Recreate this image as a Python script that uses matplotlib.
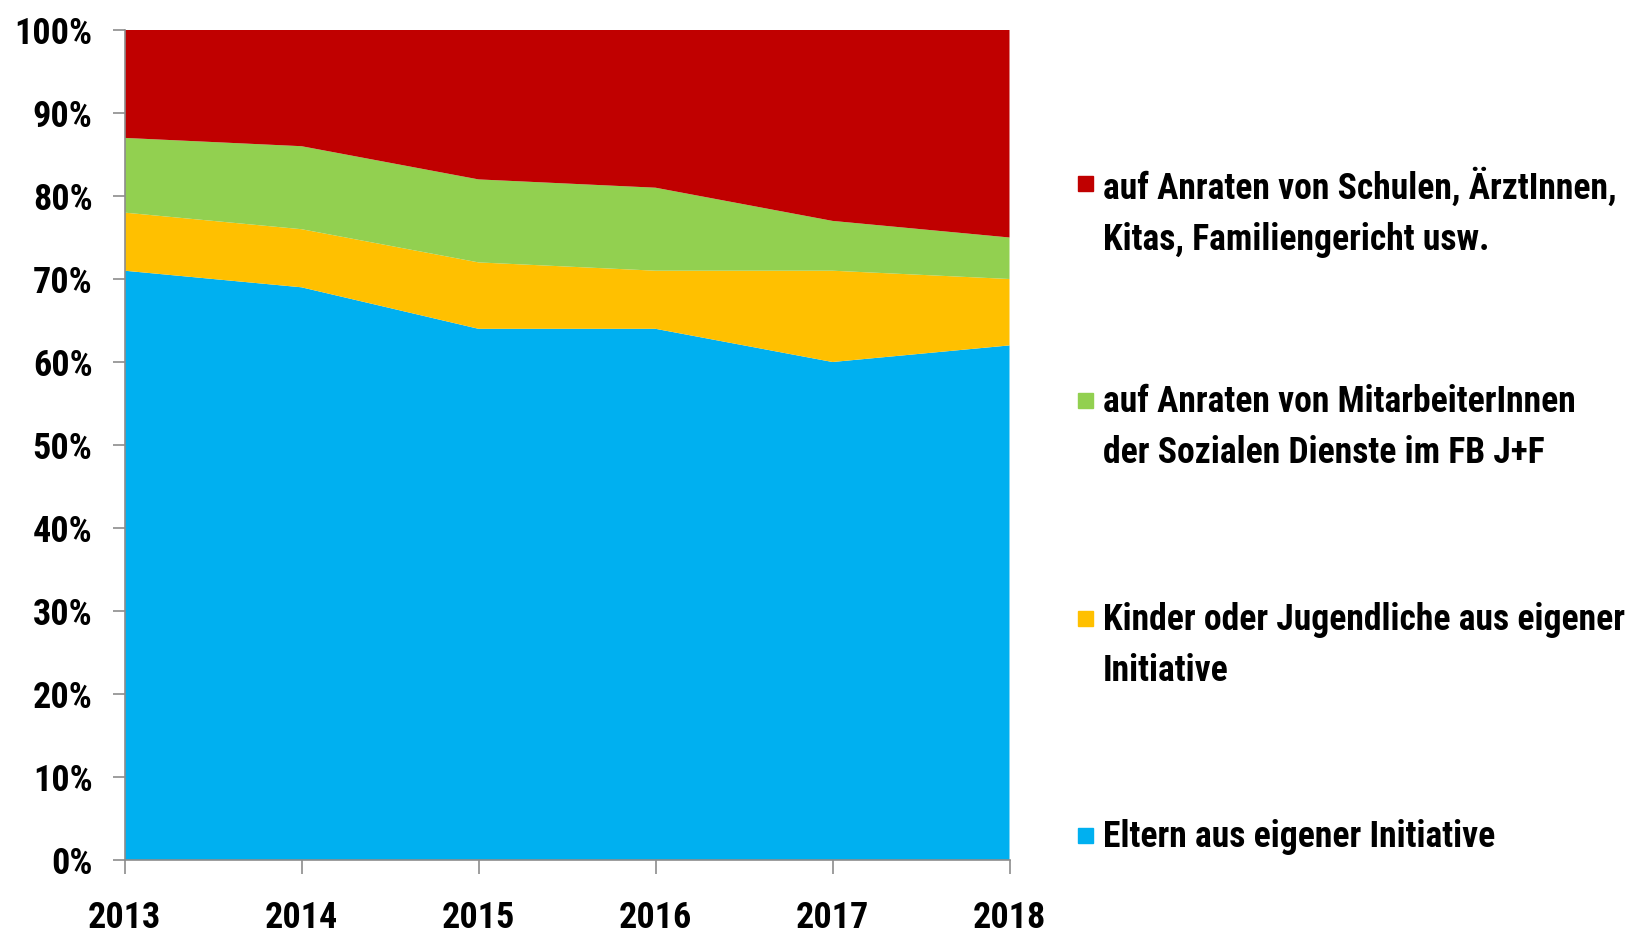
import matplotlib
matplotlib.use("Agg")
import matplotlib.pyplot as plt
from matplotlib.patches import Rectangle
from matplotlib import font_manager as fm
from matplotlib.textpath import TextPath
import numpy as np

years = ["2013", "2014", "2015", "2016", "2017", "2018"]
eltern = [71, 69, 64, 64, 60, 62]
kinder = [7, 7, 8, 7, 11, 8]
mitarbeiter = [9, 10, 10, 10, 6, 5]
anraten = [13, 14, 18, 19, 23, 25]

labels = [
    "Eltern aus eigener Initiative",
    "Kinder oder Jugendliche aus eigener\nInitiative",
    "auf Anraten von MitarbeiterInnen\nder Sozialen Dienste im FB J+F",
    "auf Anraten von Schulen, ÄrztInnen,\nKitas, Familiengericht usw.",
]
colors = ["#00B0F0", "#FFC000", "#92D050", "#C00000"]
yticklabels = [f"{v}%" for v in range(0, 101, 10)]


def pick_font():
    entries = fm.fontManager.ttflist
    cond_words = ("condensed", "narrow", "semi-condensed", "extra-condensed")
    def is_cond(f):
        st = str(f.stretch).lower()
        return any(w in st for w in cond_words) or any(
            w in f.name.lower() for w in ("narrow", "condensed"))
    def is_bold(f):
        w = f.weight
        if isinstance(w, str):
            return "bold" in w.lower()
        return w >= 600
    prefs = ["Liberation Sans Narrow", "Roboto Condensed", "Open Sans Condensed",
             "Noto Sans", "Open Sans", "DejaVu Sans Condensed", "DejaVu Sans",
             "Roboto", "Lato", "Inter"]
    for p in prefs:
        for f in entries:
            if f.name == p and is_cond(f) and is_bold(f) and "italic" not in f.style:
                return fm.FontProperties(fname=f.fname)
    for f in entries:
        if is_cond(f) and is_bold(f) and "italic" not in f.style:
            return fm.FontProperties(fname=f.fname)
    for f in entries:
        if f.name == "Liberation Sans" and is_bold(f) and f.style == "normal":
            return fm.FontProperties(fname=f.fname)
    return fm.FontProperties(family="DejaVu Sans", weight="bold")


FP = pick_font()


def size_for(text, target_px):
    w = TextPath((0, 0), text, prop=FP, size=10).get_extents().width
    return 10 * target_px / (w * 100 / 72)


tick_size = min(size_for("2013", 70), 28)
leg_size = min(size_for("auf Anraten von Schulen, ÄrztInnen,", 512), 26)

fig = plt.figure(figsize=(16.27, 9.34), dpi=100)
ax = fig.add_axes([124.5 / 1627, 74 / 934, (1009.5 - 124.5) / 1627, 830 / 934])

x = np.arange(len(years))
series = [eltern, kinder, mitarbeiter, anraten]
ax.stackplot(x, *series, colors=colors, linewidth=0)

ax.set_xlim(0, len(years) - 1)
ax.set_ylim(0, 100)
ax.set_xticks(x)
ax.set_xticklabels(years)
ax.set_yticks(range(0, 101, 10))
ax.set_yticklabels(yticklabels)

for s in ["top", "right"]:
    ax.spines[s].set_visible(False)
for s in ["left", "bottom"]:
    ax.spines[s].set_color("#8C8C8C")
    ax.spines[s].set_linewidth(1.2)
ax.tick_params(axis="x", length=10, width=1.2, color="#8C8C8C", pad=19)
ax.tick_params(axis="y", length=9, width=1.2, color="#8C8C8C", pad=14)
for lab in ax.get_xticklabels() + ax.get_yticklabels():
    lab.set_fontproperties(FP)
    lab.set_fontsize(tick_size)

# legend (top to bottom: red, green, orange, blue)
W, H = 1627, 934
entries_y = [183, 400, 618, 835]  # first-line centre, pixels from top
order = [3, 2, 1, 0]
for yc, idx in zip(entries_y, order):
    sq = 15
    fig.add_artist(Rectangle((1078 / W, 1 - (yc + sq / 2) / H), sq / W, sq / H,
                             transform=fig.transFigure, color=colors[idx]))
    t = fig.text(1103 / W, 1 - (yc - 16) / H, labels[idx], ha="left", va="top",
                 fontproperties=FP, linespacing=1.55, color="black")
    t.set_fontsize(leg_size)

fig.savefig("out.png", dpi=100)
